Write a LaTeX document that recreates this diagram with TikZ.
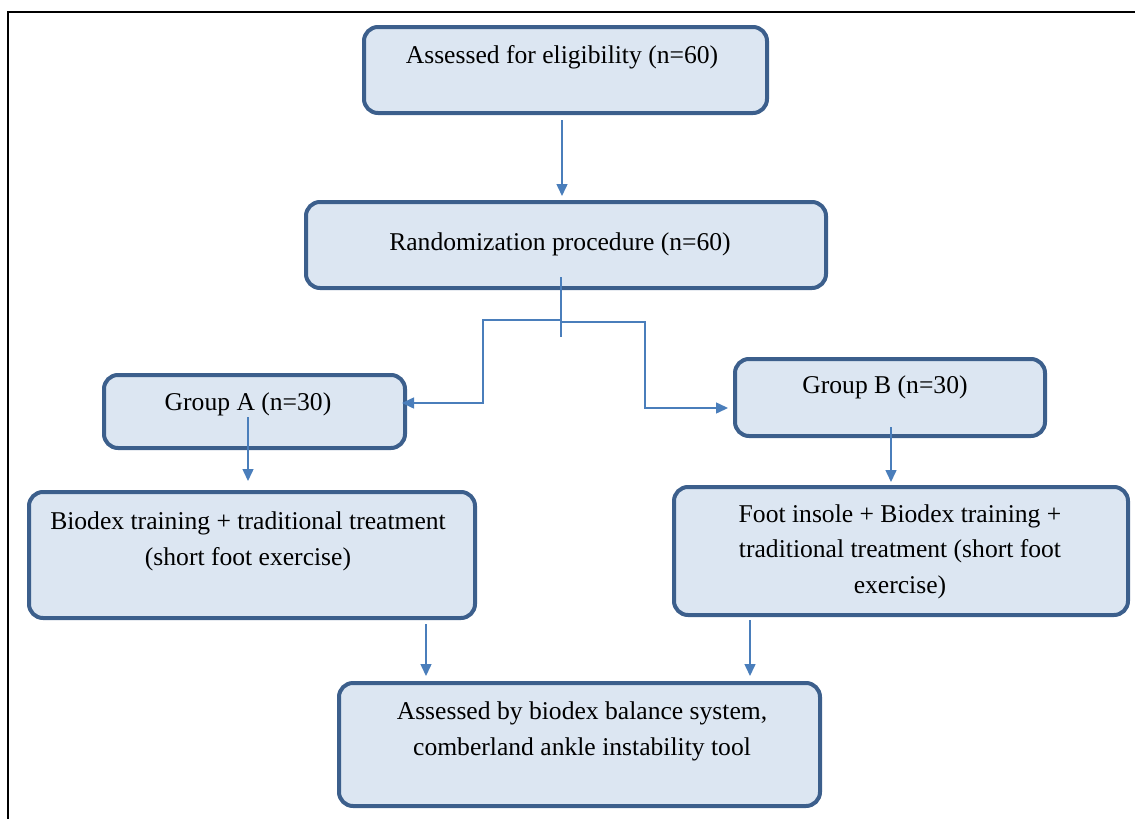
\documentclass[tikz,border=0pt]{standalone}
\usepackage{fontspec}
\setmainfont{Liberation Serif}
\usetikzlibrary{arrows.meta,calc}
\definecolor{boxline}{HTML}{3C5F8C}
\definecolor{boxfill}{HTML}{DCE6F2}
\definecolor{conncol}{HTML}{4A7EBB}
\begin{document}
\begin{tikzpicture}[x=1pt,y=-1pt,
  flowbox/.style={draw=boxline, line width=4pt, fill=boxfill, rounded corners=14pt, inner sep=0pt},
  boxtext/.style={font=\fontsize{25.6}{35.3}\selectfont, align=center, anchor=base, inner sep=0pt, text=black},
  link/.style={draw=conncol, line width=1.5pt},
  arrowlink/.style={link, -{Triangle[length=12pt,width=11pt]}}]
\useasboundingbox (0,0) rectangle (1135,819);
\draw[line width=2.5pt] (8,819) -- (8,12) -- (1135,12);

\node[flowbox, minimum width=403pt, minimum height=86pt] (b1) at (565.5,70) {};
\node[flowbox, minimum width=520pt, minimum height=86pt] (b2) at (566,245) {};
\node[flowbox, minimum width=301pt, minimum height=73pt] (b3) at (254.5,411.5) {};
\node[flowbox, minimum width=310pt, minimum height=77pt] (b4) at (890,397.5) {};
\node[flowbox, minimum width=446pt, minimum height=126pt] (b5) at (252,555) {};
\node[flowbox, minimum width=454pt, minimum height=128pt] (b6) at (901,551) {};
\node[flowbox, minimum width=481pt, minimum height=123pt] (b7) at (579.5,744.5) {};

\node[boxtext] (t1) at (562,63) {Assessed for eligibility (n=60)};
\node[boxtext] (t2) at (560,250) {Randomization procedure (n=60)};
\node[boxtext] (t3) at (248,410) {Group A (n=30)};
\node[boxtext] (t4) at (885,393) {Group B (n=30)};
\node[boxtext] (t5) at (248,565) {Biodex training + traditional treatment\\(short foot exercise)};
\node[boxtext] (t6) at (900,593) {Foot insole + Biodex training +\\traditional treatment (short foot\\exercise)};
\node[boxtext] (t7) at (582,755) {Assessed by biodex balance system,\\comberland ankle instability tool};

\draw[arrowlink] ($(b1.south)+(-3.5,5)$) -- ($(b2.north)+(-4,-4)$);
\coordinate (split) at ($(b2.south)+(-5,30)$);
\draw[link] ($(b2.south)+(-5,-13)$) -- ($(b2.south)+(-5,47)$);
\draw[arrowlink] (split) -| ($(b3.east)+(76,-8.5)$) -- ($(b3.east)+(-5,-8.5)$);
\draw[arrowlink] ($(split)+(0,2)$) -| ($(b4.west)+(-88,10.5)$) -- ($(b4.west)+(-5,10.5)$);
\draw[arrowlink] ($(b3.south)+(-6.5,-33)$) -- ($(b5.north)+(-4,-9)$);
\draw[arrowlink] ($(b4.south)+(1,-11)$) -- ($(b6.north)+(-10,-3)$);
\draw[arrowlink] ($(b5.south)+(174,4)$) -- ($(b7.north)+(-153.5,-5)$);
\draw[arrowlink] ($(b6.south)+(-151,3)$) -- ($(b7.north)+(170.5,-5)$);
\end{tikzpicture}
\end{document}
